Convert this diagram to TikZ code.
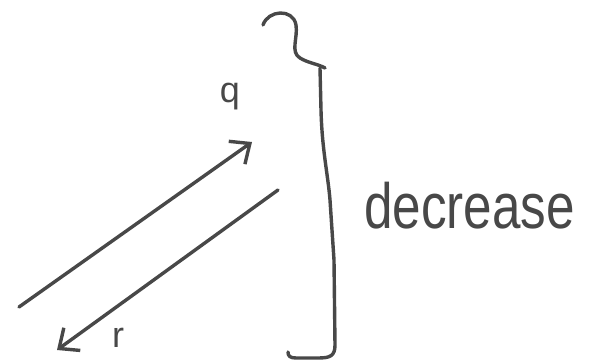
\documentclass[tikz,border=0pt]{standalone}
\usepackage{fontspec}
\setmainfont{Liberation Sans}
\usepackage{tikz}
\usetikzlibrary{positioning,arrows.meta}
\definecolor{inkgray}{RGB}{72,72,72}
\tikzset{
  sketch-line/.style={line width=3.4pt, draw=inkgray, line cap=round, line join=round},
  sketch-arrow/.style={sketch-line, -{Straight Barb[length=16pt, width=28pt]}},
  sketch-label/.style={font=\fontsize{36}{36}\selectfont, text=inkgray, inner sep=0pt},
  word-label/.style={font=\fontsize{64}{68}\selectfont, text=inkgray, inner sep=0pt}
}
\begin{document}
\begin{tikzpicture}[x=1pt, y=-1pt]
\useasboundingbox (0,0) rectangle (590,364);
% arrow ends
\coordinate (q-start) at (19,307);
\coordinate (q-end) at (252,142);
\coordinate (r-start) at (278,190);
\coordinate (r-end) at (57,350);
\draw[sketch-arrow] (q-start) -- (q-end);
\draw[sketch-arrow] (r-start) -- (r-end);
\node[sketch-label] (q-label) at (230,97) {q};
\node[sketch-label] (r-label) at (118,338) {r};
% the brace
\draw[sketch-line] (263,25) .. controls (268,10) and (293,8) .. (296,25)
  .. controls (298,38) and (290,52) .. (300,58)
  .. controls (308,63) and (318,64) .. (325,68);
\draw[sketch-line] (320,68) -- (321,110) .. controls (322,150) and (328,175) .. (330,200)
  -- (334,260) -- (335,345) .. controls (335,356) and (330,358) .. (318,358)
  -- (296,358) .. controls (290,358) and (288,356) .. (288,352);
\node[word-label, anchor=base west] (decrease) at (364,228) {\scalebox{0.8}[1]{decrease}};
\end{tikzpicture}
\end{document}
